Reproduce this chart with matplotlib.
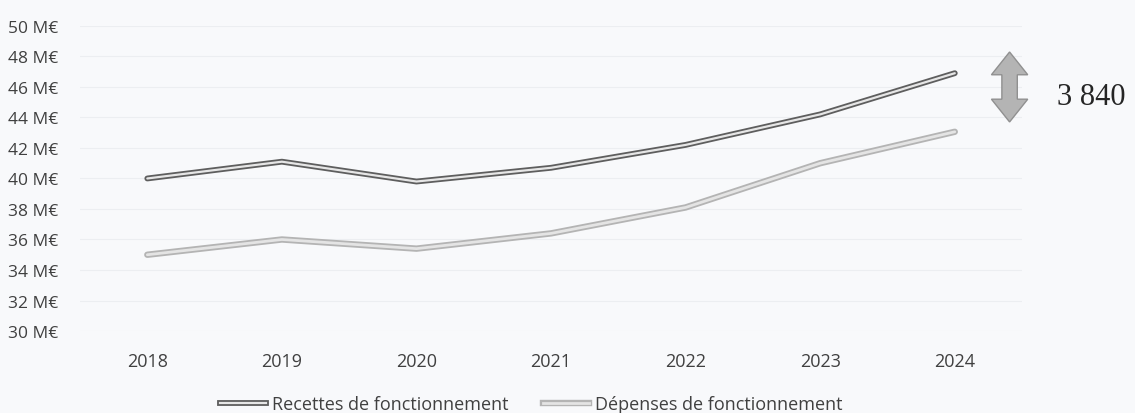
from matplotlib import pyplot as plt
from matplotlib import patheffects as pe
from matplotlib.patches import Polygon
from matplotlib.lines import Line2D

# Budget de fonctionnement, en M€
annees = ['2018', '2019', '2020', '2021', '2022', '2023', '2024']
recettes = [40.0, 41.1, 39.8, 40.7, 42.2, 44.2, 46.9]
depenses = [35.0, 36.0, 35.4, 36.4, 38.1, 41.0, 43.06]
ecart_label = '3 840'

plt.rcParams['font.family'] = ['Open Sans', 'DejaVu Sans']

fig = plt.figure(figsize=(11.35, 4.14), dpi=100)
fig.patch.set_facecolor('#f8f9fb')
ax = fig.add_axes([0.0705, 0.198, 0.83, 0.737])
ax.set_facecolor('#f8f9fb')

x = range(len(annees))

# double-stroke lines
rec_fx = [pe.Stroke(linewidth=4.2, foreground='#5e5e5e'), pe.Normal()]
dep_fx = [pe.Stroke(linewidth=4.6, foreground='#b4b4b4'), pe.Normal()]
ax.plot(x, recettes, color='#e6e6e6', lw=1.6, solid_capstyle='round',
        path_effects=rec_fx, zorder=3)
ax.plot(x, depenses, color='#e4e4e4', lw=2.0, solid_capstyle='round',
        path_effects=dep_fx, zorder=3)

ax.set_xlim(-0.5, len(annees) - 0.5)
ax.set_ylim(30, 50)
ax.set_yticks(range(30, 51, 2))
ax.set_yticklabels(['%d M€' % v for v in range(30, 51, 2)], ha='left')
ax.set_xticks(list(x))
ax.set_xticklabels(annees)
ax.tick_params(axis='y', length=0, pad=52, labelsize=12.5, labelcolor='#404040')
ax.tick_params(axis='x', length=0, pad=15, labelsize=13, labelcolor='#404040')
for s in ax.spines.values():
    s.set_visible(False)
ax.grid(axis='y', color='#eceef1', lw=0.8)
ax.set_axisbelow(True)

# legend
h1 = Line2D([], [], color='#e6e6e6', lw=1.6, path_effects=rec_fx)
h2 = Line2D([], [], color='#e4e4e4', lw=2.0, path_effects=dep_fx)
fig.legend([h1, h2], ['Recettes de fonctionnement', 'Dépenses de fonctionnement'],
           loc='center', bbox_to_anchor=(0.468, 0.022), ncol=2, frameon=False,
           fontsize=13, handlelength=2.55, handletextpad=0.35, columnspacing=1.9,
           labelcolor='#404040')

# double arrow for the gap
cx, top, bot = 0.8895, 0.872, 0.703
sw, hw, hl = 0.0068, 0.016, 0.055
pts = [(cx, top), (cx + hw, top - hl), (cx + sw, top - hl), (cx + sw, bot + hl),
       (cx + hw, bot + hl), (cx, bot), (cx - hw, bot + hl), (cx - sw, bot + hl),
       (cx - sw, top - hl), (cx - hw, top - hl)]
fig.add_artist(Polygon(pts, closed=True, transform=fig.transFigure,
                       facecolor='#b4b4b4', edgecolor='#909090', lw=1))
fig.text(0.931, 0.765, ecart_label, family='Liberation Serif', fontsize=22,
         color='#252525', va='center', ha='left')

plt.savefig('out.png', dpi=100, facecolor=fig.get_facecolor())
